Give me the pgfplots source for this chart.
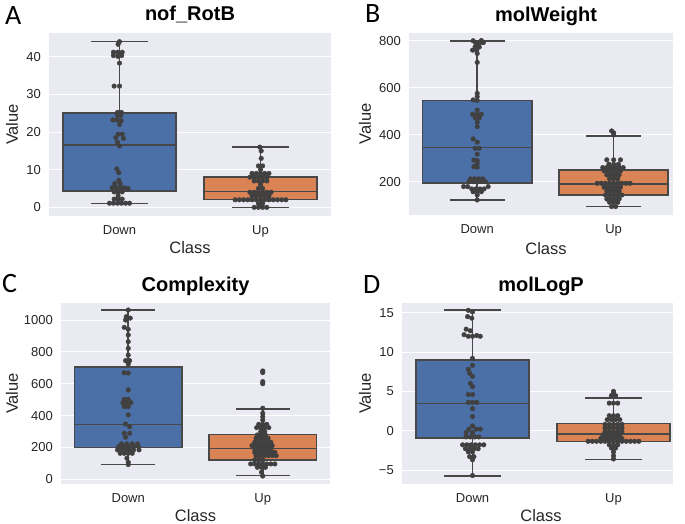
\documentclass[border=0pt]{standalone}
\usepackage{fontspec}
\setmainfont{Liberation Sans}
\newfontfamily\letterfont{Carlito}
\usepackage{pgfplots}
\pgfplotsset{compat=1.18}

\definecolor{sbbg}{RGB}{234,234,242}
\definecolor{sbblue}{RGB}{75,112,168}
\definecolor{sborange}{RGB}{218,131,84}
\definecolor{sbline}{RGB}{72,72,72}
\definecolor{sbdot}{RGB}{64,64,64}
\definecolor{sbtext}{RGB}{38,38,38}

\pgfplotsset{
  sbpanel/.style={
    scale only axis,
    anchor=south west,
    axis background/.style={fill=sbbg},
    axis line style={draw=none},
    major tick length=0pt,
    ymajorgrids,
    grid style={white, line width=1pt},
    xmin=-0.5, xmax=1.5,
    xtick={0,1}, xticklabels={Down,Up},
    tick label style={font=\fontsize{13}{15}\selectfont, text=sbtext},
    xticklabel style={anchor=base, yshift=-18pt, inner sep=0pt},
    yticklabel style={anchor=east, xshift=-8pt, inner sep=0pt},
    xlabel={Class}, ylabel={Value},
    label style={font=\fontsize{16.5}{19}\selectfont, text=sbtext},
    title style={font=\fontsize{20}{24}\selectfont\bfseries, anchor=base, yshift=6pt},
    clip=false,
  },
  sbbox/.style={draw=sbline, line width=1.6pt, solid, mark=none, line join=miter},
  sbwhisk/.style={draw=sbline, line width=1.6pt, solid, mark=none, unbounded coords=jump},
  sbswarm/.style={only marks, mark=*, mark size=2.3pt, color=sbdot,
    mark options={draw=none, fill=sbdot}},
}

\begin{document}
\begin{tikzpicture}
\useasboundingbox (0,0) rectangle (685pt,523pt);

% A: nof_RotB
\begin{axis}[sbpanel, at={(49pt,307pt)}, width=282pt, height=183pt,
  ymin=-2.3, ymax=46.3, ytick={0,10,20,30,40}, yticklabels={0,10,20,30,40},
  title={nof\_RotB},
  title style={at={(axis description cs:0.5,1)}},
  xlabel style={at={(axis description cs:0.5,0)}, anchor=base, yshift=-37pt},
  ylabel style={at={(axis description cs:-0.131,0.5)}, anchor=center}]
% Down box: whiskers 1 / 44, quartiles 4.4 / 25.1, median 16.6
\addplot[sbwhisk] coordinates {(0,25.1) (0,44) (nan,nan) (-0.2,44) (0.2,44) (nan,nan) (0,4.4) (0,1) (nan,nan) (-0.2,1) (0.2,1)};
\addplot[sbbox, fill=sbblue] coordinates {(-0.4,4.4) (0.4,4.4) (0.4,25.1) (-0.4,25.1)} -- cycle;
\addplot[sbbox] coordinates {(-0.4,16.6) (0.4,16.6)};
% Up box: whiskers 0 / 16, quartiles 2.1 / 8.1, median 4.2
\addplot[sbwhisk] coordinates {(1,8.1) (1,16) (nan,nan) (0.8,16) (1.2,16) (nan,nan) (1,2.1) (1,0) (nan,nan) (0.8,0) (1.2,0)};
\addplot[sbbox, fill=sborange] coordinates {(0.6,2.1) (1.4,2.1) (1.4,8.1) (0.6,8.1)} -- cycle;
\addplot[sbbox] coordinates {(0.6,4.2) (1.4,4.2)};
\addplot[sbswarm] coordinates {
(0.000,44.0) (-0.010,43.3) (-0.043,41.2) (-0.014,41.2) (0.019,41.2) (-0.043,40.3) (-0.012,40.1) (0.015,40.3)
(0.000,38.3) (-0.038,32.2) (0.000,32.2) (-0.014,25.2) (0.014,25.2) (-0.014,24.4) (0.008,24.4)
(-0.047,23.2) (-0.016,23.2) (0.012,23.0) (0.000,22.0) (-0.010,19.4) (0.019,19.4) (-0.026,18.5)
(0.028,18.3) (-0.014,17.3) (0.000,16.3) (-0.019,10.2) (-0.005,9.2) (-0.005,7.2) (-0.033,6.3)
(0.005,6.3) (-0.052,5.2) (-0.024,5.2) (0.005,5.2) (0.033,5.2) (0.061,5.0) (-0.038,4.1) (-0.010,4.1)
(0.019,4.1) (-0.010,3.1) (-0.038,2.2) (-0.010,2.2) (0.019,2.2) (-0.071,1.1) (-0.043,1.1)
(-0.014,1.1) (0.014,1.1) (0.043,1.1) (0.071,1.1)
};
\addplot[sbswarm] coordinates {
(0.995,16) (1.005,15) (1.005,13) (0.985,11) (1.015,11) (1.000,10)
(0.94,9) (0.97,9) (1.00,9) (1.03,9) (1.06,9)
(0.925,8) (0.955,8) (0.985,8) (1.015,8) (1.045,8)
(0.955,7) (0.985,7) (1.015,7) (1.045,7)
(1.000,6) (0.985,5) (1.015,5)
(0.925,4) (0.955,4) (0.985,4) (1.015,4) (1.045,4) (1.075,4)
(0.94,3) (0.97,3) (1.00,3) (1.03,3) (1.06,3)
(0.82,2) (0.85,2) (0.88,2) (0.91,2) (0.94,2) (0.97,2) (1.00,2) (1.03,2) (1.06,2) (1.09,2) (1.12,2) (1.15,2) (1.18,2)
(0.985,1) (1.015,1)
(0.955,0) (0.985,0) (1.015,0) (1.045,0)
};
\end{axis}

% B: molWeight
\begin{axis}[sbpanel, at={(409pt,308pt)}, width=264pt, height=182pt,
  xmax=1.435,
  ymin=58, ymax=833, ytick={200,400,600,800}, yticklabels={200,400,600,800},
  title={molWeight},
  title style={at={(axis description cs:0.519,1)}},
  xlabel style={at={(axis description cs:0.519,0)}, anchor=base, yshift=-39pt},
  ylabel style={at={(axis description cs:-0.167,0.5)}, anchor=center}]
\addplot[sbwhisk] coordinates {(0,546) (0,799) (nan,nan) (-0.2,799) (0.2,799) (nan,nan) (0,193) (0,121) (nan,nan) (-0.2,121) (0.2,121)};
\addplot[sbbox, fill=sbblue] coordinates {(-0.4,193) (0.4,193) (0.4,546) (-0.4,546)} -- cycle;
\addplot[sbbox] coordinates {(-0.4,345) (0.4,345)};
\addplot[sbwhisk] coordinates {(1,250) (1,394) (nan,nan) (0.8,394) (1.2,394) (nan,nan) (1,143) (1,94) (nan,nan) (0.8,94) (1.2,94)};
\addplot[sbbox, fill=sborange] coordinates {(0.6,143) (1.4,143) (1.4,250) (0.6,250)} -- cycle;
\addplot[sbbox] coordinates {(0.6,191) (1.4,191)};
\addplot[sbswarm] coordinates {
(-0.03,800) (0.03,801) (-0.012,792) (0.018,790) (0.045,792) (-0.015,775) (0.015,773)
(-0.034,760) (-0.005,758) (0.000,746) (0.000,708) (0.000,576) (0.000,562) (-0.03,548) (0.000,546)
(0.000,505) (-0.034,487) (0.000,487) (0.030,487) (-0.015,472) (0.015,472) (0.000,453) (0.000,434)
(-0.03,382) (0.000,368) (-0.015,342) (0.015,342) (0.000,317) (-0.025,292) (0.000,290) (0.000,278)
(-0.025,264) (0.000,262)
(-0.05,212) (-0.02,212) (0.01,212) (0.04,212)
(-0.06,200) (-0.03,200) (0.00,200) (0.03,200) (0.06,200)
(-0.10,179) (-0.07,179) (0.08,179)
(-0.04,169) (-0.01,169) (0.02,169) (0.05,169)
(-0.03,157) (0.00,157) (0.03,157) (0.00,143) (0.00,122)
};
\addplot[sbswarm] coordinates {
(0.985,416) (1.000,408) (1.000,399)
(0.95,293) (1.00,293) (1.05,293)
(0.965,274) (1.00,274) (1.035,274)
(0.92,260) (0.95,260) (0.98,260) (1.01,260) (1.04,260) (1.07,260)
(0.93,246) (0.96,246) (0.99,246) (1.02,246) (1.05,246)
(0.95,229) (0.98,229) (1.01,229) (1.04,229)
(0.97,212) (1.00,212) (1.03,212)
(0.88,193) (0.91,193) (0.94,193) (0.97,193) (1.00,193) (1.03,193) (1.06,193) (1.09,193) (1.12,193)
(0.93,176) (0.96,176) (0.99,176) (1.02,176) (1.05,176)
(0.95,160) (0.98,160) (1.01,160) (1.04,160)
(0.94,143) (0.97,143) (1.00,143) (1.03,143) (1.06,143)
(0.95,126) (0.98,126) (1.01,126) (1.04,126)
(0.97,112) (1.00,112) (1.03,112)
(0.985,94) (1.015,94)
};
\end{axis}

% C: Complexity
\begin{axis}[sbpanel, at={(61pt,39pt)}, width=269pt, height=181pt,
  ymin=-30, ymax=1107, ytick={0,200,400,600,800,1000}, yticklabels={0,200,400,600,800,1000},
  title={Complexity},
  title style={at={(axis description cs:0.5,1)}},
  xlabel style={at={(axis description cs:0.5,0)}, anchor=base, yshift=-37pt},
  ylabel style={at={(axis description cs:-0.182,0.5)}, anchor=center}]
\addplot[sbwhisk] coordinates {(0,705) (0,1063) (nan,nan) (-0.2,1063) (0.2,1063) (nan,nan) (0,199) (0,92) (nan,nan) (-0.2,92) (0.2,92)};
\addplot[sbbox, fill=sbblue] coordinates {(-0.4,199) (0.4,199) (0.4,705) (-0.4,705)} -- cycle;
\addplot[sbbox] coordinates {(-0.4,345) (0.4,345)};
\addplot[sbwhisk] coordinates {(1,282) (1,441) (nan,nan) (0.8,441) (1.2,441) (nan,nan) (1,121) (1,23) (nan,nan) (0.8,23) (1.2,23)};
\addplot[sbbox, fill=sborange] coordinates {(0.6,121) (1.4,121) (1.4,282) (0.6,282)} -- cycle;
\addplot[sbbox] coordinates {(0.6,192) (1.4,192)};
\addplot[sbswarm] coordinates {
(0,1063) (-0.015,1021) (0.015,1012) (-0.02,1000) (-0.03,954) (0,942) (0,906) (0,864) (0,822) (0,780)
(-0.02,745) (0.01,745) (0,724) (-0.03,669) (0,667) (0,561) (-0.03,502) (0,502)
(-0.04,481) (-0.01,481) (0.02,481) (-0.03,456) (0,456) (0,404) (-0.02,347) (0.01,330)
(-0.03,289) (0.01,289) (-0.02,264)
(-0.05,222) (-0.01,222) (0.03,222) (0.07,222)
(-0.07,205) (-0.035,205) (0,205) (0.04,205) (0.075,205)
(-0.08,184) (-0.05,184) (-0.02,184) (0.01,184) (0.04,184) (0.08,184)
(-0.06,163) (-0.03,163) (0,163) (0.03,163)
(-0.01,132) (0,106) (0,92)
};
\addplot[sbswarm] coordinates {
(1,680) (1,670) (1,613) (1,600) (1,446) (1,414) (1,393) (1,372)
(0.97,345) (1,345) (1.03,345)
(0.955,324) (0.985,324) (1.015,324) (1.045,324)
(0.985,299) (1.015,299)
(0.96,278) (0.99,278) (1.02,278)
(0.95,257) (0.98,257) (1.01,257) (1.04,257)
(0.94,232) (0.97,232) (1,232) (1.03,232) (1.06,232)
(0.92,211) (0.95,211) (0.98,211) (1.01,211) (1.04,211) (1.07,211)
(0.94,190) (0.97,190) (1,190) (1.03,190) (1.06,190)
(0.94,169) (0.97,169) (1,169) (1.03,169) (1.06,169) (1.09,169)
(0.95,148) (0.98,148) (1.01,148) (1.04,148) (1.07,148) (1.10,148)
(0.94,121) (0.97,121) (1,121)
(0.91,96) (0.94,96) (0.97,96) (1,96) (1.03,96) (1.06,96) (1.09,96)
(0.96,75) (0.99,75) (1.02,75)
(0.99,44) (1,20)
};
\end{axis}

% D: molLogP
\begin{axis}[sbpanel, at={(402pt,39pt)}, width=271pt, height=181pt,
  xmax=1.422,
  ymin=-6.78, ymax=16.23, ytick={-5,0,5,10,15}, yticklabels={−5,0,5,10,15},
  title={molLogP},
  title style={at={(axis description cs:0.513,1)}},
  xlabel style={at={(axis description cs:0.513,0)}, anchor=base, yshift=-37pt},
  ylabel style={at={(axis description cs:-0.137,0.5)}, anchor=center}]
\addplot[sbwhisk] coordinates {(0,8.98) (0,15.34) (nan,nan) (-0.2,15.34) (0.2,15.34) (nan,nan) (0,-0.93) (0,-5.76) (nan,nan) (-0.2,-5.76) (0.2,-5.76)};
\addplot[sbbox, fill=sbblue] coordinates {(-0.4,-0.93) (0.4,-0.93) (0.4,8.98) (-0.4,8.98)} -- cycle;
\addplot[sbbox] coordinates {(-0.4,3.47) (0.4,3.47)};
\addplot[sbwhisk] coordinates {(1,0.89) (1,4.19) (nan,nan) (0.8,4.19) (1.2,4.19) (nan,nan) (1,-1.36) (1,-3.69) (nan,nan) (0.8,-3.69) (1.2,-3.69)};
\addplot[sbbox, fill=sborange] coordinates {(0.6,-1.36) (1.4,-1.36) (1.4,0.89) (0.6,0.89)} -- cycle;
\addplot[sbbox] coordinates {(0.6,-0.42) (1.4,-0.42)};
\addplot[sbswarm] coordinates {
(-0.03,15.3) (0,15.1) (-0.035,14.5) (-0.005,14.3) (-0.045,12.9) (-0.015,12.7)
(-0.06,12.2) (-0.03,12.0) (0,12.0) (0.03,12.1) (0.055,12.0)
(0,9.2) (0,8.3) (-0.03,7.8) (-0.02,7.3) (0,6.9) (-0.015,6.0) (0,5.6)
(-0.03,4.6) (0,4.6) (-0.03,3.6) (0,3.6) (0.03,3.6) (0,2.8) (0,1.8) (0,0.6)
(-0.025,0.2) (0.025,0.2) (0.055,0.2) (-0.045,-0.25) (0,-0.25)
(-0.045,-0.8) (-0.015,-0.8) (0.015,-0.8) (0.045,-0.8)
(-0.07,-1.8) (-0.04,-1.8) (-0.01,-1.8) (0.02,-1.8) (0.05,-1.8) (0.08,-1.8)
(-0.05,-2.3) (-0.02,-2.3) (0.01,-2.3) (0.04,-2.3)
(-0.03,-2.7) (0,-2.7) (-0.02,-3.3) (0.01,-3.3) (0,-3.7) (0,-5.7)
};
\addplot[sbswarm] coordinates {
(1.00,5.0) (1.00,4.75) (0.985,4.45) (1.015,4.45) (0.97,3.5) (1.00,3.5) (1.03,3.5)
(0.97,1.9) (1.00,1.9) (1.03,1.9)
(0.955,1.4) (0.985,1.4) (1.015,1.4) (1.045,1.4)
(0.94,0.8) (0.97,0.8) (1.00,0.8) (1.03,0.8) (1.06,0.8)
(0.94,0.35) (0.97,0.35) (1.00,0.35) (1.03,0.35) (1.06,0.35)
(0.94,-0.15) (0.97,-0.15) (1.00,-0.15) (1.03,-0.15) (1.06,-0.15)
(0.925,-0.55) (0.955,-0.55) (0.985,-0.55) (1.015,-0.55) (1.045,-0.55)
(0.91,-1.0) (0.94,-1.0) (0.97,-1.0) (1.00,-1.0) (1.03,-1.0) (1.06,-1.0)
(0.82,-1.35) (0.85,-1.35) (0.88,-1.35) (0.91,-1.35) (0.94,-1.35) (0.97,-1.35) (1.00,-1.35) (1.03,-1.35) (1.06,-1.35) (1.09,-1.35) (1.12,-1.35) (1.15,-1.35) (1.18,-1.35)
(0.97,-1.8) (1.00,-1.8) (1.03,-1.8)
(0.985,-2.2) (1.015,-2.2)
(1.00,-2.7) (1.00,-3.2) (1.00,-3.6)
};
\end{axis}

\node[anchor=base west, inner sep=0pt, font=\letterfont\fontsize{28}{30}\selectfont] at (5pt,498pt) {A};
\node[anchor=base west, inner sep=0pt, font=\letterfont\fontsize{28}{30}\selectfont] at (365pt,500pt) {B};
\node[anchor=base west, inner sep=0pt, font=\letterfont\fontsize{28}{30}\selectfont] at (2pt,231pt) {C};
\node[anchor=base west, inner sep=0pt, font=\letterfont\fontsize{28}{30}\selectfont] at (363pt,230pt) {D};
\end{tikzpicture}
\end{document}
